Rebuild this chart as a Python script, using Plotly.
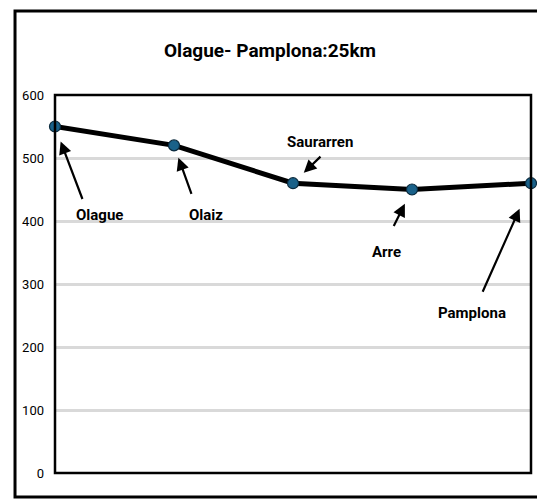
import plotly.graph_objects as go

places = ["Olague", "Olaiz", "Saurarren", "Arre", "Pamplona"]
elevation = [550, 520, 460, 450, 460]
y_ticks = [0, 100, 200, 300, 400, 500, 600]
title_text = "Olague- Pamplona:25km"

# label layout (pixel offsets relative to each point): text offset, arrow tail offset, standoff
label_text_off = [(44, 88), (32, 70), (27, -41), (-26, 62), (-59, 130)]
arrow_tail_off = [(28, 74), (18, 50), (29, -28), (-19, 38), (-49, 110)]
arrow_standoff = [16, 13, 15, 16, 28]

FONT = "Roboto, sans-serif"

fig = go.Figure()
fig.add_trace(go.Scatter(
    x=list(range(len(places))), y=elevation, mode="lines+markers",
    line=dict(color="black", width=5),
    marker=dict(size=11, color="#1a6189", line=dict(color="#0b2a3d", width=1.2)),
    cliponaxis=False, hoverinfo="x+y", showlegend=False,
))

annotations = []
for i, name in enumerate(places):
    tx, ty = label_text_off[i]
    annotations.append(dict(
        x=i, y=elevation[i], xref="x", yref="y", text=f"<b>{name}</b>",
        showarrow=False, xshift=tx, yshift=-ty,
        font=dict(family=FONT, size=15, color="black"),
    ))
    ax, ay = arrow_tail_off[i]
    annotations.append(dict(
        x=i, y=elevation[i], xref="x", yref="y", text="",
        showarrow=True, ax=ax, ay=ay, arrowhead=2, arrowsize=1.15,
        arrowwidth=2.2, arrowcolor="black", standoff=arrow_standoff[i],
    ))

# page has an 8px body margin, so the canvas is 8px smaller and shifted
fig.update_layout(
    width=537, height=496,
    margin=dict(l=47, r=14, t=87, b=31),
    paper_bgcolor="white", plot_bgcolor="white",
    title=dict(text=f"<b>{title_text}</b>", x=0.488, xanchor="center",
               y=0.915, yanchor="middle",
               font=dict(family=FONT, size=19, color="black")),
    xaxis=dict(range=[0, len(places) - 1], showgrid=False, showticklabels=False,
               zeroline=False, showline=False, ticks=""),
    yaxis=dict(range=[0, 600], tickvals=y_ticks, showgrid=True, gridcolor="#d9d9d9",
               gridwidth=2.6, zeroline=False, showline=False, ticks="",
               ticklabelstandoff=10,
               tickfont=dict(family=FONT, size=13, color="black")),
    annotations=annotations,
    shapes=[
        dict(type="rect", xref="paper", yref="paper", x0=0, x1=1, y0=0, y1=1,
             line=dict(color="black", width=2.5), layer="above"),
        dict(type="rect", xref="paper", yref="paper", x0=-0.084, x1=1.04,
             y0=-0.0635, y1=1.222, line=dict(color="black", width=3)),
    ],
)
fig.write_html("out.html")
